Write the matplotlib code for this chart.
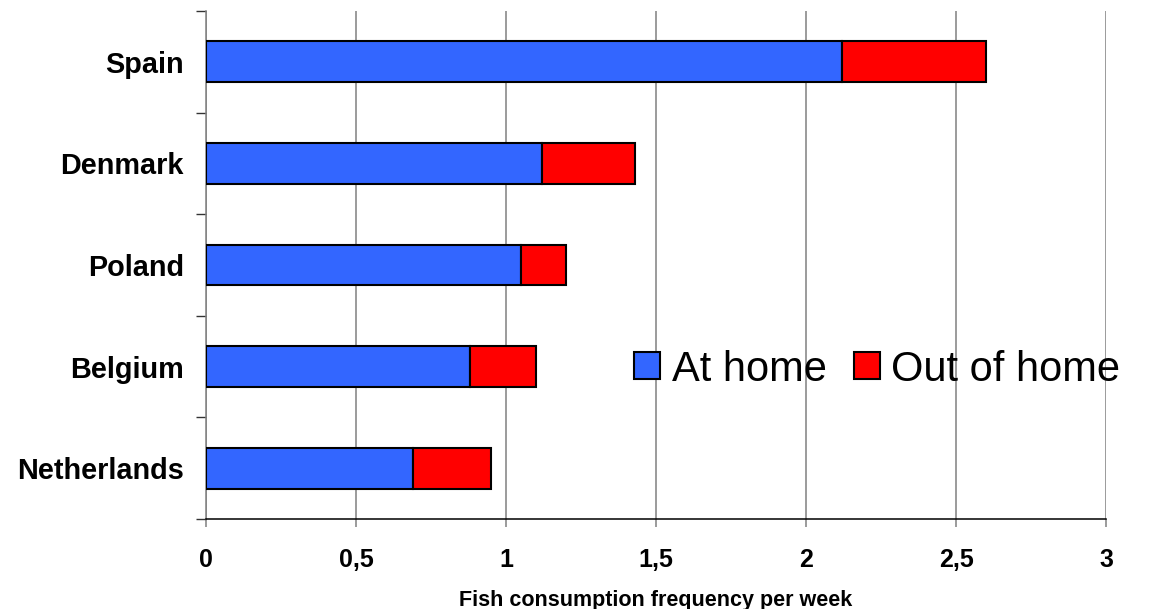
import matplotlib.pyplot as plt
import numpy as np
from matplotlib.ticker import FixedLocator, FuncFormatter

plt.rcParams['font.family'] = ['Liberation Sans', 'DejaVu Sans']

# weekly fish consumption, top to bottom
countries = ['Spain', 'Denmark', 'Poland', 'Belgium', 'Netherlands']
at_home = [2.12, 1.12, 1.05, 0.88, 0.69]
out_of_home = [0.48, 0.31, 0.15, 0.22, 0.26]

fig = plt.figure(figsize=(11.52, 6.09), dpi=100)
ax = fig.add_axes([0.1788, 0.1478, 0.9601 - 0.1788, 0.982 - 0.1478])

y = np.arange(len(countries))
ax.barh(y, at_home, height=0.4, color='#3366FF', edgecolor='black',
        linewidth=1.5, label='At home', zorder=3)
ax.barh(y, out_of_home, left=at_home, height=0.4, color='#FF0000',
        edgecolor='black', linewidth=1.5, label='Out of home', zorder=3)

ax.set_xlim(0, 3)
ax.set_ylim(len(countries) - 0.5, -0.5)

ax.set_xticks(np.arange(0, 3.01, 0.5))
ax.xaxis.set_major_formatter(FuncFormatter(lambda v, p: f'{v:g}'.replace('.', ',')))
ax.set_yticks(y)
ax.set_yticklabels(countries)
ax.yaxis.set_minor_locator(FixedLocator(np.arange(-0.5, len(countries), 1)))

for lbl in ax.get_yticklabels():
    lbl.set_fontweight('bold')
    lbl.set_fontsize(20.8)
for lbl in ax.get_xticklabels():
    lbl.set_fontweight('bold')
    lbl.set_fontsize(18)

ax.tick_params(axis='y', which='major', length=0, pad=16)
ax.tick_params(axis='y', which='minor', length=7, width=1, color='#333333',
               direction='out')
ax.tick_params(axis='x', length=6, width=1.1, color='#808080', pad=15)

ax.grid(axis='x', color='#808080', linewidth=1.1, zorder=0)
ax.set_axisbelow(True)

for side in ['top', 'right']:
    ax.spines[side].set_visible(False)
ax.spines['left'].set_color('#808080')
ax.spines['left'].set_linewidth(1.1)
ax.spines['bottom'].set_color('black')
ax.spines['bottom'].set_linewidth(1.1)

ax.set_xlabel('Fish consumption frequency per week', fontsize=15.5,
              fontweight='bold', labelpad=13)

ax.legend(loc='center left', bbox_to_anchor=(0.476, 0.294), ncol=2,
          frameon=False, fontsize=30, handlelength=0.62, handleheight=0.62,
          handletextpad=0.28, columnspacing=0.65, borderpad=0, borderaxespad=0)

fig.savefig('out.png', dpi=100)
